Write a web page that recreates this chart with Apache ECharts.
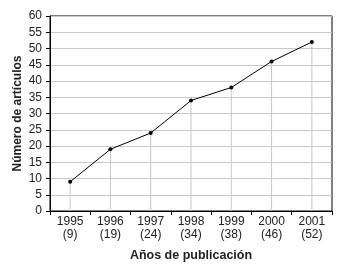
<!DOCTYPE html>
<html><head><meta charset="utf-8">
<script src="https://cdn.jsdelivr.net/npm/echarts@6/dist/echarts.min.js"></script>
<style>html,body{margin:0;padding:0;background:#fff}#c{width:341px;height:265px}</style>
</head><body><div id="c"></div>
<script>
const years = ['1995','1996','1997','1998','1999','2000','2001'];
const counts = [9, 19, 24, 34, 38, 46, 52];
const yTicks = [0,5,10,15,20,25,30,35,40,45,50,55,60];
const yTitle = 'Número de artículos';
const xTitle = 'Años de publicación';

const cats = years.map((y,i)=> y + '\n(' + counts[i] + ')');
const font = 'Liberation Sans, Arial, sans-serif';
const chart = echarts.init(document.getElementById('c'), null, {renderer:'canvas'});
chart.setOption({
  animation:false,
  backgroundColor:'#fff',
  grid:{left:50,right:9,top:16,bottom:54,show:true,borderColor:'#000',borderWidth:1,backgroundColor:'transparent',containLabel:false,outerBoundsMode:'none'},
  xAxis:{
    type:'category', data:cats, boundaryGap:true,
    name:xTitle, nameLocation:'middle', nameGap:38, nameMoveOverlap:false,
    nameTextStyle:{fontFamily:font,fontSize:12.5,fontWeight:'bold',color:'#222',verticalAlign:'top'},
    axisLine:{lineStyle:{color:'#000',width:1}},
    axisTick:{show:true,length:4,lineStyle:{color:'#000'},alignWithLabel:false},
    axisLabel:{fontFamily:font,fontSize:12,color:'#222',lineHeight:13,margin:4},
    splitLine:{show:false}
  },
  yAxis:{
    type:'value', min:yTicks[0], max:yTicks[yTicks.length-1], interval:5,
    name:yTitle, nameLocation:'middle', nameGap:26, nameRotate:90, nameMoveOverlap:false,
    nameTextStyle:{fontFamily:font,fontSize:12,fontWeight:'bold',color:'#222'},
    axisLine:{show:true,lineStyle:{color:'#000',width:1}},
    axisTick:{show:true,length:4,lineStyle:{color:'#000'}},
    axisLabel:{fontFamily:font,fontSize:12,color:'#222',margin:8},
    splitLine:{show:true,lineStyle:{color:'#c8c8c8',width:1}}
  },
  series:[
    {type:'bar', data:counts, barWidth:1, itemStyle:{color:'#c8c8c8'}, silent:true, z:1},
    {type:'line', data:counts, symbol:'circle', symbolSize:4,
     lineStyle:{color:'#000',width:1}, itemStyle:{color:'#000'}, z:3}
  ]
});
</script></body></html>
